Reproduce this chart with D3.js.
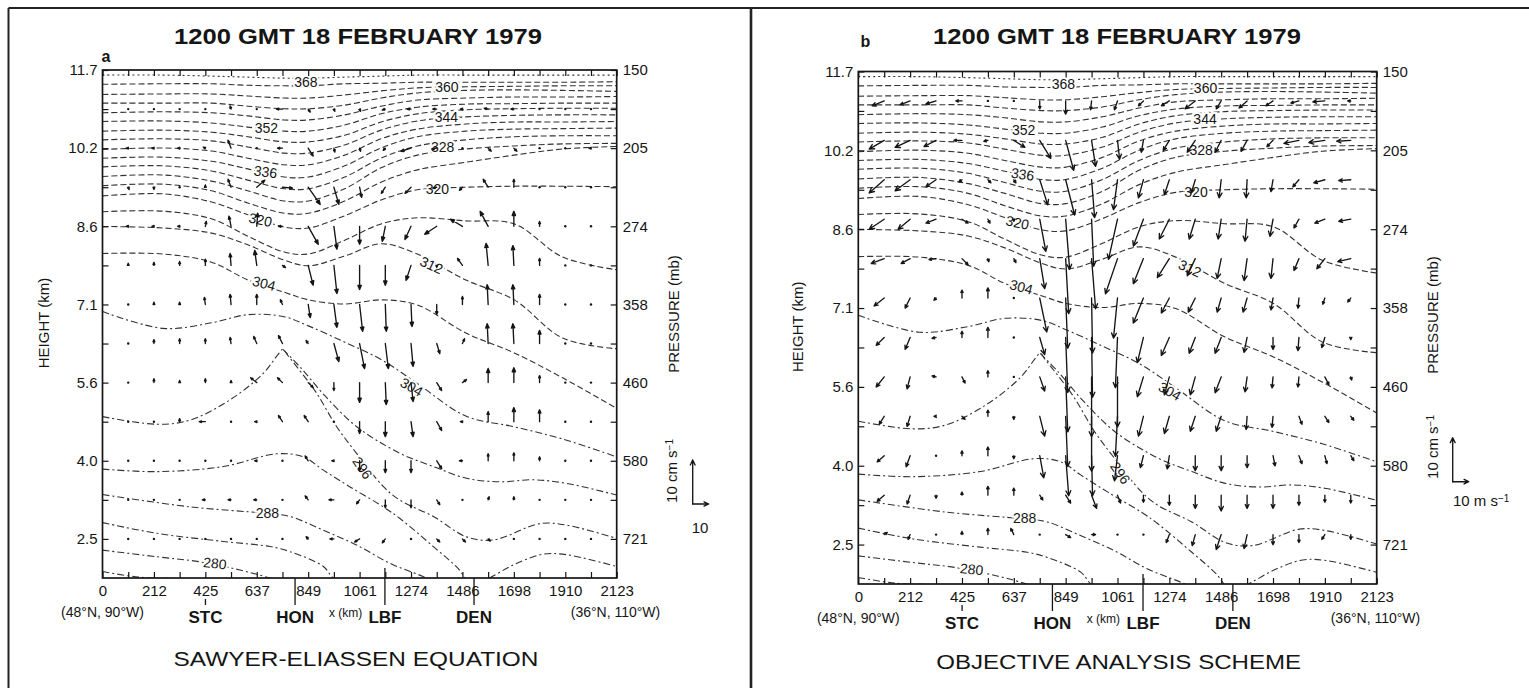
<!DOCTYPE html>
<html>
<head>
<meta charset="utf-8">
<script src="https://cdn.jsdelivr.net/npm/d3@7"></script>
<style>
  body { margin: 0; background: #fff; }
  svg text { font-family: "Liberation Sans", Arial, Helvetica, sans-serif; fill: #151515; }
  .tick line { stroke: #151515; stroke-width: 1.2; }
  .tick text { font-size: 15px; }
  .isentrope { fill: none; stroke: #333; stroke-width: 1.1; }
  .vec { fill: none; stroke: #151515; stroke-width: 1.35; stroke-linecap: round; stroke-linejoin: round; }
  .vec.solid { fill: #151515; }
  .theta { font-size: 14px; stroke: #fff; stroke-width: 4px; paint-order: stroke; }
</style>
</head>
<body>
<svg id="fig" width="1529" height="688"></svg>
<script>
// ---- axes ----
const xTickLabels = ['0', '212', '425', '637', '849', '1061', '1274', '1486', '1698', '1910', '2123']
const heightLabels = ['11.7', '10.2', '8.6', '7.1', '5.6', '4.0', '2.5']
const pressureLabels = ['150', '205', '274', '358', '460', '580', '721']
const xMax = 2123
const levels = d3.range(14).map(k => 11.7 - k * 9.2 / 12)      // 11.7 ... 1.73 km
const columns = d3.range(1, 20).map(i => i * xMax / 20)          // arrow columns (km)
const stations = [
    { name: 'STC', x: 425, up: 0, from: 21 },
    { name: 'HON', x: 795, up: 0, from: 0 },
    { name: 'LBF', x: 1166, up: 10, from: 0 },
    { name: 'DEN', x: 1534, up: 0, from: 0 }
]

// ---- isentropes (x km, height km) ----
const stationX = [0, 250, 450, 600, 750, 850, 1000, 1150, 1300, 1500, 1700, 1900, 2123]
const upperTheta = [
    [11.60, 11.60, 11.58, 11.56, 11.54, 11.54, 11.56, 11.58, 11.60, 11.60, 11.60, 11.60, 11.60],
    [11.42, 11.43, 11.43, 11.40, 11.39, 11.39, 11.43, 11.44, 11.46, 11.46, 11.46, 11.46, 11.47],
    [11.22, 11.23, 11.23, 11.19, 11.15, 11.15, 11.21, 11.29, 11.35, 11.37, 11.38, 11.39, 11.39],
    [11.05, 11.05, 11.05, 10.99, 10.94, 10.94, 11.01, 11.15, 11.25, 11.30, 11.31, 11.30, 11.28],
    [10.86, 10.88, 10.86, 10.80, 10.72, 10.72, 10.82, 10.99, 11.11, 11.15, 11.17, 11.17, 11.18],
    [10.69, 10.70, 10.66, 10.58, 10.50, 10.50, 10.62, 10.84, 10.97, 11.03, 11.04, 11.05, 11.05],
    [10.50, 10.52, 10.48, 10.39, 10.29, 10.29, 10.42, 10.68, 10.84, 10.92, 10.94, 10.95, 10.95],
    [10.33, 10.35, 10.31, 10.19, 10.07, 10.07, 10.23, 10.52, 10.70, 10.78, 10.81, 10.82, 10.82],
    [10.14, 10.17, 10.11, 9.97, 9.84, 9.84, 10.03, 10.35, 10.54, 10.64, 10.68, 10.68, 10.69],
    [9.97, 9.99, 9.91, 9.76, 9.60, 9.60, 9.82, 10.17, 10.39, 10.50, 10.54, 10.55, 10.56],
    [9.80, 9.82, 9.72, 9.54, 9.37, 9.37, 9.60, 9.97, 10.21, 10.33, 10.39, 10.41, 10.41],
    [9.61, 9.64, 9.52, 9.33, 9.13, 9.13, 9.37, 9.78, 10.03, 10.15, 10.21, 10.25, 10.26],
    [9.43, 9.46, 9.33, 9.09, 8.89, 8.89, 9.13, 9.50, 9.74, 9.89, 10.03, 10.15, 10.20],
    [9.23, 9.27, 9.11, 8.86, 8.62, 8.60, 8.84, 9.15, 9.35, 9.40, 9.42, 9.42, 9.41],
    [8.92, 8.93, 8.78, 8.44, 8.13, 8.09, 8.36, 8.68, 8.80, 8.74, 8.68, 8.03, 7.78],
    [8.63, 8.60, 8.50, 8.27, 7.97, 7.86, 8.05, 8.29, 8.09, 7.58, 7.19, 6.44, 6.23],
    [8.10, 8.09, 7.93, 7.58, 7.34, 7.19, 7.11, 7.19, 7.09, 6.54, 6.15, 5.66, 5.06],
    [6.96, 6.63, 6.74, 6.90, 6.86, 6.68, 6.36, 6.02, 5.55, 4.91, 4.70, 4.46, 4.11]
]
const lowerTheta = [
    [[745, 6.22], [820, 5.85], [920, 5.3], [1050, 4.7], [1228, 4.18], [1366, 3.92], [1503, 3.69], [1641, 3.62], [1779, 3.66], [1916, 3.59], [2123, 3.36]],
    [[0, 4.9], [224, 4.75], [361, 4.83], [527, 5.23], [664, 5.75], [725, 6.12], [745, 6.22], [765, 6.1], [802, 5.88], [884, 5.36], [967, 4.7], [1049, 4.18], [1159, 3.53], [1228, 3.26], [1366, 2.94], [1503, 2.54], [1614, 2.48], [1806, 2.8], [1916, 2.77], [2123, 2.51]],
    [[0, 3.87], [224, 3.82], [499, 3.92], [719, 4.17], [829, 4.11], [912, 3.85], [1022, 3.52], [1159, 3.13], [1228, 2.9], [1366, 2.35], [1462, 1.95], [1530, 1.6], [1600, 1.74], [1700, 2.0], [1820, 2.2], [1916, 2.19], [2123, 1.96]],
    [[0, 3.37], [361, 3.13], [678, 3.0], [774, 2.94], [912, 2.67], [1049, 2.38], [1187, 2.02], [1325, 1.76], [1450, 1.5]],
    [[0, 2.82], [224, 2.61], [499, 2.45], [692, 2.35], [774, 2.25], [912, 1.96], [953, 1.73], [1050, 1.45]],
    [[0, 2.28], [224, 2.15], [403, 2.05], [568, 1.89], [692, 1.73], [800, 1.55]],
    [[0, 1.86], [150, 1.75], [350, 1.72], [600, 1.7]]
]
const thetaLabels = [
    { t: '368', x: 840, h: 11.455, r: 0 }, { t: '360', x: 1422, h: 11.37, r: 0 },
    { t: '352', x: 677, h: 10.57, r: 0 }, { t: '344', x: 1420, h: 10.78, r: 0 },
    { t: '336', x: 673, h: 9.70, r: 8 }, { t: '328', x: 1404, h: 10.18, r: 0 },
    { t: '320', x: 652, h: 8.76, r: 12 }, { t: '320', x: 1383, h: 9.36, r: 0 },
    { t: '312', x: 1358, h: 7.87, r: 25 }, { t: '304', x: 667, h: 7.51, r: 15 },
    { t: '304', x: 1276, h: 5.48, r: 30 }, { t: '296', x: 1073, h: 3.89, r: 55 },
    { t: '288', x: 681, h: 3.01, r: 0 }, { t: '280', x: 464, h: 2.02, r: 6 }
]

// ---- circulation vectors: u (m/s), w (cm/s); rows 10.9 km -> 2.5 km, 19 columns ----
const uA = [
    [0, -0.6, -0.6, -0.6, -0.6, 0, -3.8, 1.3, 0.6, 0.6, -1.9, -2.5, -2.5, -1.3, -2.5, -1.9, -0.6, 0, 0],
    [-1.3, -1.3, -1.3, -1.3, -1.9, 0, -3.1, 3.1, 0.6, 0.6, -1.3, -6.3, -3.1, 0, 1.9, 1.9, 0, 0, -1.3],
    [0.6, 0, -0.6, 0, -1.9, 5, 6.3, 7.5, 3.1, 1.3, -2.5, -3.8, -2.5, -1.9, -3.1, 0, 0, 0, 0],
    [-1.3, -1.3, -1.3, 0.6, -1.3, 0.6, -2.5, 6.3, 1.9, 0, -1.9, -3.8, -7.5, -7.5, -5, 0, 0, 0, -0.6],
    [0, 0, 0, 0, -0.6, -1.3, 1.9, 3.1, 1.9, 0, 0, -3.1, 0, -3.1, -1.3, -0.6, 0, 0, 0],
    [0, 0, 0, -0.6, -0.6, 0, -1.3, 1.3, 1.9, 1.9, 0.6, 0.6, 0, 0, -0.6, -0.6, 0, 0, 0],
    [0, 0, 0, 0, -0.6, -1.9, -2.5, -1.3, 3.1, 3.1, 1.9, 1.3, 1.9, 1.3, -0.6, -0.6, 0, 0, 0],
    [0, 0, 0, 0, 0, -3.8, -3.1, 3.1, 0, 0, 0.6, 1.3, 3.1, 2.5, 0, 0, 0, 0, 0],
    [0, 0, 0, -3.8, 0, -1.3, -2.5, -2.5, 0, 0, 0, 1.3, 3.1, -1.3, 0, 0, 0, 0, 0],
    [0, 0, 0, 0, 0, -1.3, 0, -1.9, -1.3, 0, 0, 0, 3.1, -1.9, 0, 0, 0, 0, 0],
    [0, 0, 0, -1.9, -1.9, -1.9, 0, -1.9, -3.1, -1.9, 0, 0, 1.9, 0, 0.6, 0, 0, 0, 0],
    [0, 0, 0, 0, 0, 0, 0, -1.3, -2.5, -3.1, -1.9, 0, 1.9, 1.9, 1.3, 0, 0, 0, 0]
]
const wA = [
    [0.2, 0, 0, 0, 0.7, 0, 0, -0.7, -0.5, -0.5, -0.2, 0, 0, 0, 0.2, 0, 0, 0, 0],
    [0, 0, 0, 0.2, 1.8, 0, 0, -1.8, -0.9, -0.7, -0.5, -0.7, -0.2, -0.2, -0.7, -0.7, -0.2, 0, 0],
    [-0.5, -0.5, 0, 0.5, 1.8, 1.6, -0.2, -3.9, -3.9, -2.3, -1.4, -1.4, -0.2, -0.7, 1.8, 1.8, 0.2, 0, 0],
    [0, 0, 0, 1.1, 2.3, 3.0, 0, -4.1, -5.2, -4.1, -3.4, -3.0, -1.8, 1.6, 3.4, 3.4, 1.1, 0, 0],
    [0.5, 0.7, 0.9, 1.4, 2.7, 3.4, -0.5, -4.5, -6.4, -5.5, -4.5, -3.4, -0.5, 1.6, 5.0, 4.5, 1.6, 0, 0],
    [0.2, 0.5, 0.5, 1.6, 2.3, 2.3, 1.1, -3.0, -5.2, -6.1, -6.1, -5.0, -2.3, 1.8, 4.5, 4.5, 2.3, 0.2, 0],
    [0.2, 0.9, 1.1, 1.1, 1.4, 1.6, 1.8, 0.7, -4.1, -5.7, -5.7, -5.2, -2.3, 1.1, 4.5, 4.5, 3.0, 0, 0],
    [0.2, 0.9, 0.5, 0.9, 0.5, 1.1, 1.1, -1.1, -1.8, -4.5, -5.0, -4.3, -1.8, 0.7, 3.2, 3.4, 1.6, 0, 0],
    [0, 0, 0.7, 0, 0, 0, 1.4, 1.4, 0, -2.7, -3.4, -3.4, -2.0, 0, 2.3, 3.2, 2.7, 0, 0],
    [0, 0.2, 0, 0, 0, 0, 0, 1.1, 0, -2.3, -2.7, -2.7, -1.8, 0, 1.6, 1.8, 0.9, 0, 0],
    [0, 0, 0, 0, 0, 0, 0, 0.9, 0, -0.9, -1.8, -1.8, -1.1, 0, 0.7, 0.7, 0, 0, 0],
    [0, 0, 0, 0, 0, 0, 0, 0.5, 0, -0.7, -0.9, 0, -0.7, -0.7, -0.5, 0, 0, 0, 0]
]
const uB = [
    [-7.5, -6.3, -6.3, -3.8, 0, 0, 0, 0, -0.6, -1.9, -3.1, -5, -6.3, -3.1, -5, -4.4, -5, -7.5, -1.9],
    [-9.4, -9.4, -7.5, -5, -2.5, 6.9, 6.9, 5, 2.5, 1.3, -1.3, -3.8, -5, -3.8, -3.8, -3.8, -9.4, -10, -8.8],
    [-9.4, -9.4, -6.3, -1.9, 1.9, 1.3, 5, 5.6, 1.9, -2.5, -3.1, -3.1, -2.5, -1.3, -0.6, -1.3, -3.8, -6.9, -7.5],
    [-9.4, -7.5, -6.3, 3.8, 1.3, 0, 3.8, 2.5, 1.3, -5.6, -6.3, -6.3, -3.8, -1.9, -1.3, -1.9, -3.1, -6.3, -7.5],
    [-8.1, -5.6, -4.4, 3.8, 0.6, 1.3, 3.1, 1.9, 2.5, -7.5, -6.3, -7.5, -5, -2.5, -1.9, -1.3, -3.1, -5, -8.1],
    [-6.3, -3.1, -1.3, 0, 0, 0, 4.4, 1.3, 0.6, -2.5, -6.3, -5, -4.4, -2.5, -2.5, -1.3, -0.6, -1.3, -1.9],
    [-5, -3.1, -2.5, 0, 0, 0, 3.1, 1.3, 0.6, -1.3, -3.8, -5, -3.8, -3.8, -1.9, 0, -0.6, -1.9, 0],
    [-5, -1.9, -2.5, 1.9, 0, 0, 3.1, 1.3, 0, 0, -3.8, -3.1, -3.1, -3.8, -1.3, -0.6, -0.6, 2.5, 0.6],
    [-3.1, -1.9, -1.3, 1.9, 0, 0, 3.1, 1.3, 0, -1.3, -3.1, -3.1, -3.1, -3.1, -0.6, -0.6, 1.9, 2.5, 1.9],
    [-4.4, -2.5, 0, 0, 0, 0, 2.5, 1.9, 0.6, -1.9, -1.9, -1.3, 0, 0, 0, 1.3, 1.9, 1.3, 1.9],
    [-4.4, -1.9, 0, 0, 0, 0, 1.9, 3.1, 3.1, 1.9, 0, 0, 0, 0, 0, 0, 0, 0, 0],
    [1.9, -1.3, 0, 0, 0, -1.9, 0, 3.1, 2.5, 0, 0, -1.9, -1.9, -3.1, -1.9, 0, 0, -1.9, 0]
]
const wB = [
    [-1.1, -0.9, -0.7, 0, 0, -0.2, -1.8, -3.0, -2.0, -2.0, -1.1, -1.1, -1.8, -1.8, -1.6, -1.1, -0.5, -0.2, 0],
    [-2.0, -1.6, -1.4, 0, -0.2, -1.6, -4.1, -6.8, -5.9, -4.3, -2.7, -2.3, -2.7, -2.7, -2.5, -1.4, -0.7, -0.5, -0.2],
    [-3.0, -2.5, -1.6, -0.5, -0.7, -0.7, -5.7, -8.0, -8.6, -6.8, -4.1, -3.4, -3.0, -4.1, -4.1, -2.7, -1.6, -0.7, -0.2],
    [-2.3, -2.3, -0.9, -0.9, -0.9, -0.5, -7.3, -11.4, -10.7, -9.1, -6.1, -4.5, -4.5, -4.5, -5.0, -3.9, -2.0, -0.9, -0.5],
    [-1.1, -1.1, -0.2, -1.4, -0.7, -0.9, -6.8, -12.5, -11.4, -8.0, -5.7, -4.3, -3.9, -4.5, -5.0, -4.5, -2.7, -2.3, -0.7],
    [-1.8, -2.3, -0.5, 1.8, 2.3, -0.2, -7.7, -11.4, -12.5, -9.1, -5.7, -3.4, -3.2, -3.2, -3.2, -2.7, -2.3, -1.4, -0.9],
    [-1.8, -2.7, -0.2, 1.4, 2.3, 0, -3.9, -12.5, -13.6, -11.4, -5.7, -4.1, -3.6, -3.6, -3.4, -2.7, -3.0, -2.3, -0.5],
    [-2.3, -2.7, 0.2, -1.4, 1.4, 0, -3.2, -12.5, -13.6, -11.4, -4.5, -4.1, -4.1, -3.6, -3.4, -2.5, -2.3, -1.8, -0.7],
    [-1.8, -2.3, 0, -0.7, 1.4, -0.7, -4.5, -11.4, -12.5, -9.1, -4.5, -3.9, -3.4, -3.4, -3.0, -2.5, -1.8, -1.4, -0.9],
    [-1.4, -2.5, 0, 1.1, 2.0, -0.7, -5.0, -9.1, -9.1, -5.7, -2.7, -3.0, -3.4, -3.4, -2.7, -2.3, -1.8, -1.8, -1.1],
    [-1.4, -2.0, -0.7, 0.7, 2.0, 1.6, -1.1, -1.8, -3.0, -1.8, -1.6, -2.3, -3.0, -3.6, -3.0, -3.0, -2.3, -1.6, -1.8],
    [0.5, -1.1, 0, 0.7, 1.4, 1.4, 0, -0.7, 0, 0, 0, -1.8, -2.5, -3.4, -3.2, -2.3, -1.8, -1.1, -1.1]
]

const panels = [
    {
        id: 'a', left: 102.5, right: 616.7, top: 70, bottom: 578, U: uA, W: wA, shift: 0, solidHead: true,
        title: 'SAWYER-ELIASSEN EQUATION', titleX: 358, nameX: 356, nameY: 666,
        letterX: 101.5, letterY: 62, heightX: 44, pressX: 674, pressY: 314,
        legend: { x: 692.7, y: 504, rotX: 672, rotY: 471, unit: '10', unitX: 700, unitY: 533, anchor: 'middle' }
    },
    {
        id: 'b', left: 858.3, right: 1376.7, top: 71.5, bottom: 584, U: uB, W: wB, shift: -10, solidHead: false,
        title: 'OBJECTIVE ANALYSIS SCHEME', titleX: 1117, nameX: 1118.7, nameY: 669,
        letterX: 860.5, letterY: 47, heightX: 798, pressX: 1433, pressY: 315,
        legend: { x: 1452.7, y: 481.7, rotX: 1433, rotY: 447, unit: '10 m s', unitX: 1453, unitY: 506, anchor: 'start' }
    }
]

const svg = d3.select('#fig')
svg.append('rect').attr('width', 1529).attr('height', 688).attr('fill', '#fff')

// frame
const frame = svg.append('g').attr('stroke', '#222').attr('fill', 'none')
frame.append('line').attr('x1', 8.5).attr('x2', 1529).attr('y1', 8).attr('y2', 8).attr('stroke-width', 2)
frame.append('line').attr('x1', 8.5).attr('x2', 8.5).attr('y1', 8).attr('y2', 688).attr('stroke-width', 2)
frame.append('line').attr('x1', 751).attr('x2', 751).attr('y1', 8).attr('y2', 688).attr('stroke-width', 2.6)

const uPx = d3.scaleLinear().domain([0, 10]).range([0, 16])   // 10 m/s
const wPx = d3.scaleLinear().domain([0, 10]).range([0, 44])   // 10 cm/s

function arrowPath(x0, y0, x1, y1, solid) {
    const len = Math.hypot(x1 - x0, y1 - y0)
    const a = Math.atan2(y1 - y0, x1 - x0)
    const hl = solid ? Math.min(4.5, Math.max(2.4, len * 0.3)) : Math.min(5.5, Math.max(2.6, len * 0.32))
    const s = solid ? 0.38 : 0.45
    const shaft = `M${x0},${y0}L${x1},${y1}`
    const head = `M${x1 - hl * Math.cos(a - s)},${y1 - hl * Math.sin(a - s)}L${x1},${y1}` +
        `L${x1 - hl * Math.cos(a + s)},${y1 - hl * Math.sin(a + s)}`
    return shaft + head + (solid ? 'Z' : '')
}

panels.forEach(p => {
    const x = d3.scaleLinear().domain([0, xMax]).range([p.left, p.right])
    const y = d3.scaleLinear().domain([levels[13], 11.7]).range([p.bottom, p.top])
    const g = svg.append('g')

    g.append('clipPath').attr('id', `clip-${p.id}`)
        .append('rect').attr('x', p.left).attr('y', p.top)
        .attr('width', p.right - p.left).attr('height', p.bottom - p.top)

    // isentropes
    const line = d3.line().x(d => x(d[0])).y(d => y(d[1])).curve(d3.curveCatmullRom.alpha(0.5))
    const lines = upperTheta.map(hs => hs.map((h, i) => [stationX[i], h])).concat(lowerTheta)
    g.append('g').attr('clip-path', `url(#clip-${p.id})`)
        .selectAll('path').data(lines).join('path')
        .attr('class', 'isentrope')
        .attr('stroke-dasharray', (d, i) => i == 0 ? '2 3' : i < 17 ? '6 3' : '7 3 2 3')
        .attr('d', line)

    g.append('g').selectAll('text').data(thetaLabels).join('text')
        .attr('class', 'theta')
        .attr('text-anchor', 'middle').attr('dy', '0.35em')
        .attr('transform', d => `translate(${x(d.x)},${y(d.h)}) rotate(${d.r})`)
        .text(d => d.t)

    // vectors
    const rows = levels.slice(1, 13)
    const vg = g.append('g')
    p.U.forEach((row, r) => row.forEach((u, c) => {
        const x0 = x(columns[c]), y0 = y(rows[r]) + p.shift
        const dx = uPx(u), dy = -wPx(p.W[r][c])
        if (Math.hypot(dx, dy) < 1.8) {
            vg.append('circle').attr('cx', x0).attr('cy', y0).attr('r', 1.2).attr('fill', '#151515')
        } else {
            vg.append('path').attr('class', p.solidHead ? 'vec solid' : 'vec')
                .attr('d', arrowPath(x0, y0, x0 + dx, y0 + dy, p.solidHead))
        }
    }))

    // axes
    const xTickVals = d3.range(21).map(i => i * xMax / 20)
    g.append('g').attr('transform', `translate(0,${p.bottom})`)
        .call(d3.axisBottom(x).tickValues(xTickVals).tickSize(-6).tickPadding(7)
            .tickFormat((d, i) => i % 2 == 0 ? xTickLabels[i / 2] : ''))
    g.append('g').attr('transform', `translate(0,${p.top})`)
        .call(d3.axisTop(x).tickValues(xTickVals).tickSize(-6).tickFormat(''))
    g.append('g').attr('transform', `translate(${p.left},0)`)
        .call(d3.axisLeft(y).tickValues(levels.slice(0, 13)).tickSize(-6).tickPadding(5)
            .tickFormat((d, i) => i % 2 == 0 ? heightLabels[i / 2] : ''))
    g.append('g').attr('transform', `translate(${p.right},0)`)
        .call(d3.axisRight(y).tickValues(levels.slice(0, 13)).tickSize(-6).tickPadding(6)
            .tickFormat((d, i) => i % 2 == 0 ? pressureLabels[i / 2] : ''))
    g.selectAll('.domain').remove()
    g.append('rect').attr('x', p.left).attr('y', p.top)
        .attr('width', p.right - p.left).attr('height', p.bottom - p.top)
        .attr('fill', 'none').attr('stroke', '#151515').attr('stroke-width', 1.7)

    // stations
    stations.forEach(s => {
        g.append('line').attr('x1', x(s.x)).attr('x2', x(s.x))
            .attr('y1', p.bottom - s.up + s.from).attr('y2', p.bottom + 27)
            .attr('stroke', '#151515').attr('stroke-width', 1.3)
        g.append('text').attr('x', x(s.x)).attr('y', p.bottom + 45)
            .attr('text-anchor', 'middle').style('font-size', '17px').style('font-weight', 'bold').text(s.name)
    })
    g.append('text').attr('x', x(1004)).attr('y', p.bottom + 39).attr('text-anchor', 'middle')
        .style('font-size', '12px').text('x (km)')
    g.append('text').attr('x', x(0)).attr('y', p.bottom + 39).attr('text-anchor', 'middle')
        .style('font-size', '14px').text('(48°N, 90°W)')
    g.append('text').attr('x', x(2118)).attr('y', p.bottom + 39).attr('text-anchor', 'middle')
        .style('font-size', '14px').text('(36°N, 110°W)')

    // titles
    g.append('text').attr('x', p.titleX).attr('y', 43.5).attr('text-anchor', 'middle')
        .attr('textLength', 368).attr('lengthAdjust', 'spacingAndGlyphs')
        .style('font-size', '22px').style('font-weight', 'bold').text('1200 GMT 18 FEBRUARY 1979')
    g.append('text').attr('x', p.nameX).attr('y', p.nameY).attr('text-anchor', 'middle')
        .attr('textLength', 365).attr('lengthAdjust', 'spacingAndGlyphs')
        .style('font-size', '20px').text(p.title)
    g.append('text').attr('x', p.letterX).attr('y', p.letterY)
        .style('font-size', '16px').style('font-weight', 'bold').text(p.id)

    g.append('text').attr('transform', `translate(${p.heightX},${(p.top + p.bottom) / 2 - 1}) rotate(-90)`)
        .attr('text-anchor', 'middle').attr('dy', '0.35em').style('font-size', '15px').text('HEIGHT (km)')
    g.append('text').attr('transform', `translate(${p.pressX},${p.pressY}) rotate(-90)`)
        .attr('text-anchor', 'middle').attr('dy', '0.35em').style('font-size', '15px').text('PRESSURE (mb)')

    // scale legend
    const L = p.legend
    const rot = g.append('text').attr('transform', `translate(${L.rotX},${L.rotY}) rotate(-90)`)
        .attr('text-anchor', 'middle').attr('dy', '0.35em').style('font-size', '15px')
    rot.append('tspan').text('10 cm s')
    rot.append('tspan').attr('dy', '-0.45em').style('font-size', '10px').text('−1')
    g.append('path').attr('class', 'vec').attr('d', arrowPath(L.x, L.y, L.x, L.y - wPx(10), false))
    g.append('path').attr('class', 'vec').attr('d', arrowPath(L.x, L.y, L.x + uPx(10), L.y, false))
    const ut = g.append('text').attr('x', L.unitX).attr('y', L.unitY)
        .attr('text-anchor', L.anchor).style('font-size', '15px')
    ut.append('tspan').text(L.unit)
    if (p.id == 'b') ut.append('tspan').attr('dy', '-0.45em').style('font-size', '10px').text('−1')
})
</script>
</body>
</html>
